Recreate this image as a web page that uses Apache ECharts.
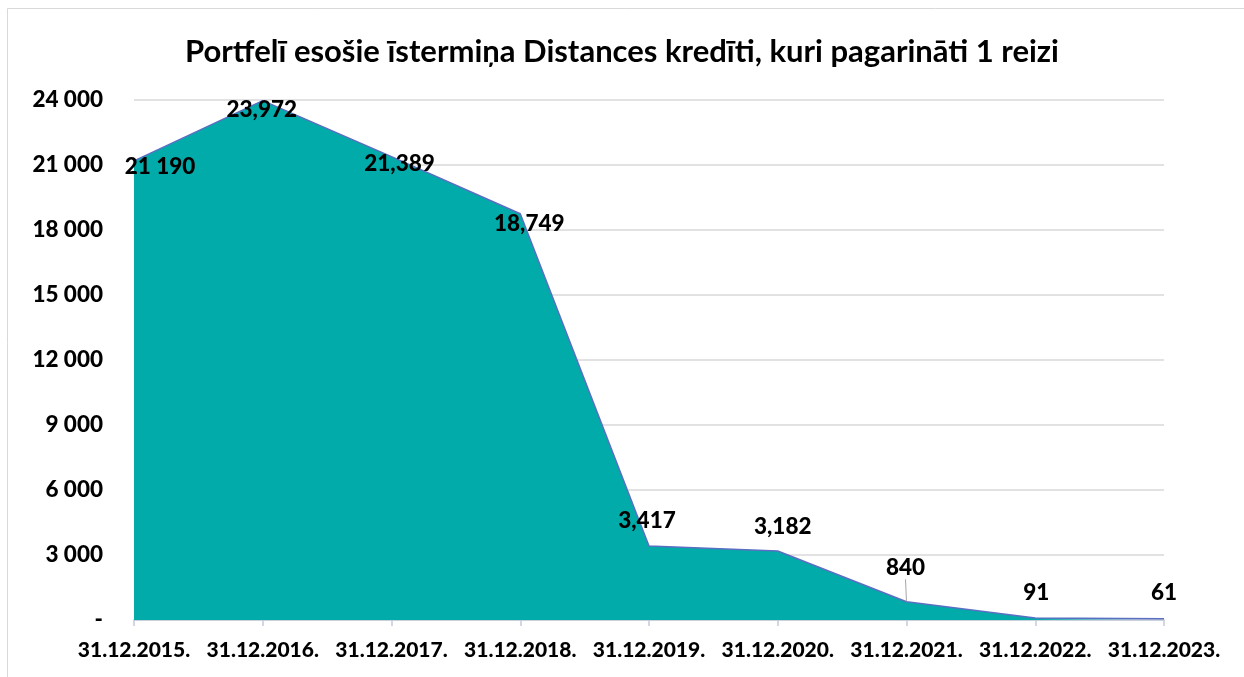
<!DOCTYPE html>
<html>
<head>
<meta charset="utf-8">
<script src="https://cdn.jsdelivr.net/npm/echarts@6/dist/echarts.min.js"></script>
<style>
html,body{margin:0;padding:0;background:#fff;}
#chart{width:1244px;height:677px;}
</style>
</head>
<body>
<div id="chart"></div>
<script>
const titleText = 'Portfelī esošie īstermiņa Distances kredīti, kuri pagarināti 1 reizi';
const categories = ['31.12.2015.', '31.12.2016.', '31.12.2017.', '31.12.2018.', '31.12.2019.', '31.12.2020.', '31.12.2021.', '31.12.2022.', '31.12.2023.'];
const values = [21190, 23972, 21389, 18749, 3417, 3182, 840, 91, 61];
const yMin = 0;
const yMax = 24000;
const yInterval = 3000;

const FONT = 'Lato';
const labelShift = [[26, 6], [-1, 9], [8, 7], [9, 10], [-2, -25], [5, -24], [-1, -34], [1, -25], [0, -26]];

function fmtLabel(v, i) {
  const s = String(v);
  return s.replace(/\B(?=(\d{3})+(?!\d))/g, i === 0 ? ' ' : ',');
}

const chart = echarts.init(document.getElementById('chart'), null, {renderer: 'canvas'});
chart.setOption({
  backgroundColor: '#fff',
  animation: false,
  graphic: [{
    type: 'rect', silent: true, z: -1,
    shape: {x: 7.5, y: 8.5, width: 1400, height: 800},
    style: {fill: 'none', stroke: '#D9D9D9', lineWidth: 1}
  }],
  title: {
    text: titleText,
    left: 'center',
    top: 31,
    textStyle: {fontFamily: FONT, fontWeight: 'bold', fontSize: 31, color: '#000'}
  },
  grid: {left: 134, right: 80, top: 100, bottom: 57, containLabel: false},
  xAxis: {
    type: 'category',
    data: categories,
    boundaryGap: false,
    axisLine: {lineStyle: {color: '#C3CBDA', width: 1.5}},
    axisTick: {show: true, length: 6, lineStyle: {color: '#C3CBDA', width: 1.5}},
    axisLabel: {fontFamily: FONT, fontWeight: 900, fontSize: 21, color: '#000', margin: 20, interval: 0}
  },
  yAxis: {
    type: 'value',
    min: yMin, max: yMax, interval: yInterval,
    axisLine: {show: false},
    axisTick: {show: false},
    splitLine: {lineStyle: {color: '#D9D9D9', width: 1.5}},
    axisLabel: {
      fontFamily: FONT, fontWeight: 900, fontSize: 22.5, color: '#000', margin: 31,
      formatter: v => v === 0 ? '-' : String(v).replace(/\B(?=(\d{3})+(?!\d))/g, ' ')
    }
  },
  series: [{
    type: 'line',
    data: values.map((v, i) => ({
      value: v,
      labelLine: {show: i === 6}
    })),
    symbol: 'circle',
    symbolSize: 1,
    showSymbol: true,
    itemStyle: {color: 'rgba(0,0,0,0)'},
    lineStyle: {color: '#5A6FC2', width: 1.5},
    areaStyle: {color: '#00ABA9', opacity: 1},
    label: {
      show: true,
      position: 'inside',
      fontFamily: FONT, fontWeight: 900, fontSize: 22.5, color: '#000',
      formatter: p => fmtLabel(p.value, p.dataIndex)
    },
    labelLine: {show: false, lineStyle: {color: '#A6A6A6', width: 1}},
    labelLayout: p => ({dx: labelShift[p.dataIndex][0], dy: labelShift[p.dataIndex][1]})
  }]
});
</script>
</body>
</html>
